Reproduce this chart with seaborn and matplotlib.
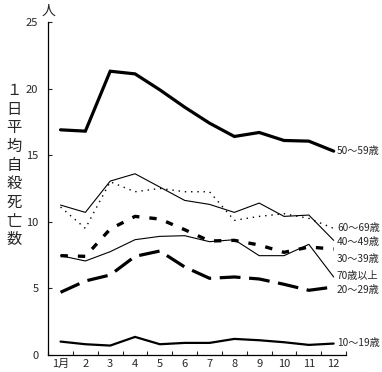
import numpy as np
import pandas as pd
import matplotlib
matplotlib.use("Agg")
import matplotlib.pyplot as plt
import seaborn as sns

# 月別・年齢階級別 1日平均自殺死亡数
months = list(range(1, 13))
month_labels = ["1月", "2", "3", "4", "5", "6", "7", "8", "9", "10", "11", "12"]
series_names = ["10～19歳", "20～29歳", "30～39歳", "40～49歳", "50～59歳", "60～69歳", "70歳以上"]

age_10_19 = [1.0, 0.8, 0.7, 1.35, 0.8, 0.9, 0.9, 1.2, 1.1, 0.95, 0.75, 0.85]
age_20_29 = [4.7, 5.55, 6.0, 7.4, 7.8, 6.6, 5.75, 5.85, 5.7, 5.3, 4.85, 5.1]
age_30_39 = [7.45, 7.4, 9.45, 10.4, 10.2, 9.4, 8.55, 8.6, 8.25, 7.7, 8.1, 7.95]
age_40_49 = [11.25, 10.7, 13.05, 13.6, 12.6, 11.6, 11.3, 10.7, 11.4, 10.4, 10.5, 8.6]
age_50_59 = [16.9, 16.8, 21.3, 21.1, 19.9, 18.6, 17.4, 16.4, 16.7, 16.1, 16.05, 15.3]
age_60_69 = [11.1, 9.5, 13.0, 12.25, 12.5, 12.25, 12.25, 10.1, 10.4, 10.6, 10.25, 9.5]
age_70_over = [7.45, 7.05, 7.75, 8.65, 8.9, 8.95, 8.5, 8.65, 7.45, 7.45, 8.3, 5.85]

# 右端ラベルの縦位置
label_y = [0.9, 4.9, 7.2, 8.5, 15.3, 9.5, 5.9]

values = [age_10_19, age_20_29, age_30_39, age_40_49, age_50_59, age_60_69, age_70_over]
df = pd.DataFrame({
    "month": months * len(series_names),
    "deaths": np.concatenate(values),
    "age": np.repeat(series_names, len(months)),
})

sns.set_style("ticks")
plt.rcParams["font.family"] = ["Noto Sans CJK JP", "DejaVu Sans"]

dashes = {
    "10～19歳": "",
    "20～29歳": (6.5, 2.7),
    "30～39歳": (2.2, 3.0),
    "40～49歳": "",
    "50～59歳": "",
    "60～69歳": (1.0, 3.5),
    "70歳以上": "",
}
sizes = {
    "10～19歳": 1.6,
    "20～29歳": 2.3,
    "30～39歳": 2.4,
    "40～49歳": 0.8,
    "50～59歳": 2.3,
    "60～69歳": 1.0,
    "70歳以上": 0.8,
}
palette = {n: "black" for n in series_names}

fig = plt.figure(figsize=(3.82, 3.72), dpi=100)
ax = fig.add_axes([0.126, 0.046, 0.78, 0.895])

sns.lineplot(data=df, x="month", y="deaths", hue="age", style="age", size="age",
             palette=palette, dashes=dashes, sizes=sizes, legend=False, ax=ax)
for line in ax.get_lines():
    line.set_dash_capstyle("butt")
    line.set_solid_joinstyle("miter")

ax.set_xlim(0.5, 12.5)
ax.set_ylim(0, 25)
ax.set_xticks(np.arange(0.5, 13, 1))
ax.set_xticklabels([])
ax.set_xticks(months, minor=True)
ax.set_xticklabels(month_labels, minor=True, fontsize=8)
ax.tick_params(axis="x", which="major", direction="in", length=3, width=0.8)
ax.tick_params(axis="x", which="minor", length=0, pad=3)
ax.set_yticks([0, 5, 10, 15, 20, 25])
ax.tick_params(axis="y", direction="in", length=3, width=0.8, pad=7, labelsize=8)
ax.set_xlabel("")
ax.set_ylabel("")
sns.despine(ax=ax)
for s in ["left", "bottom"]:
    ax.spines[s].set_linewidth(0.9)
    ax.spines[s].set_color("black")

for name, y in zip(series_names, label_y):
    ax.text(12.13, y, name, fontsize=7.3, va="center", ha="left", clip_on=False)

fig.text(0.037, 0.556, "\n".join("１日平均自殺死亡数"), fontsize=11,
         ha="center", va="center", linespacing=1.13)
fig.text(0.128, 0.972, "人", fontsize=10, ha="center", va="center")

fig.savefig("out.png", dpi=100)
